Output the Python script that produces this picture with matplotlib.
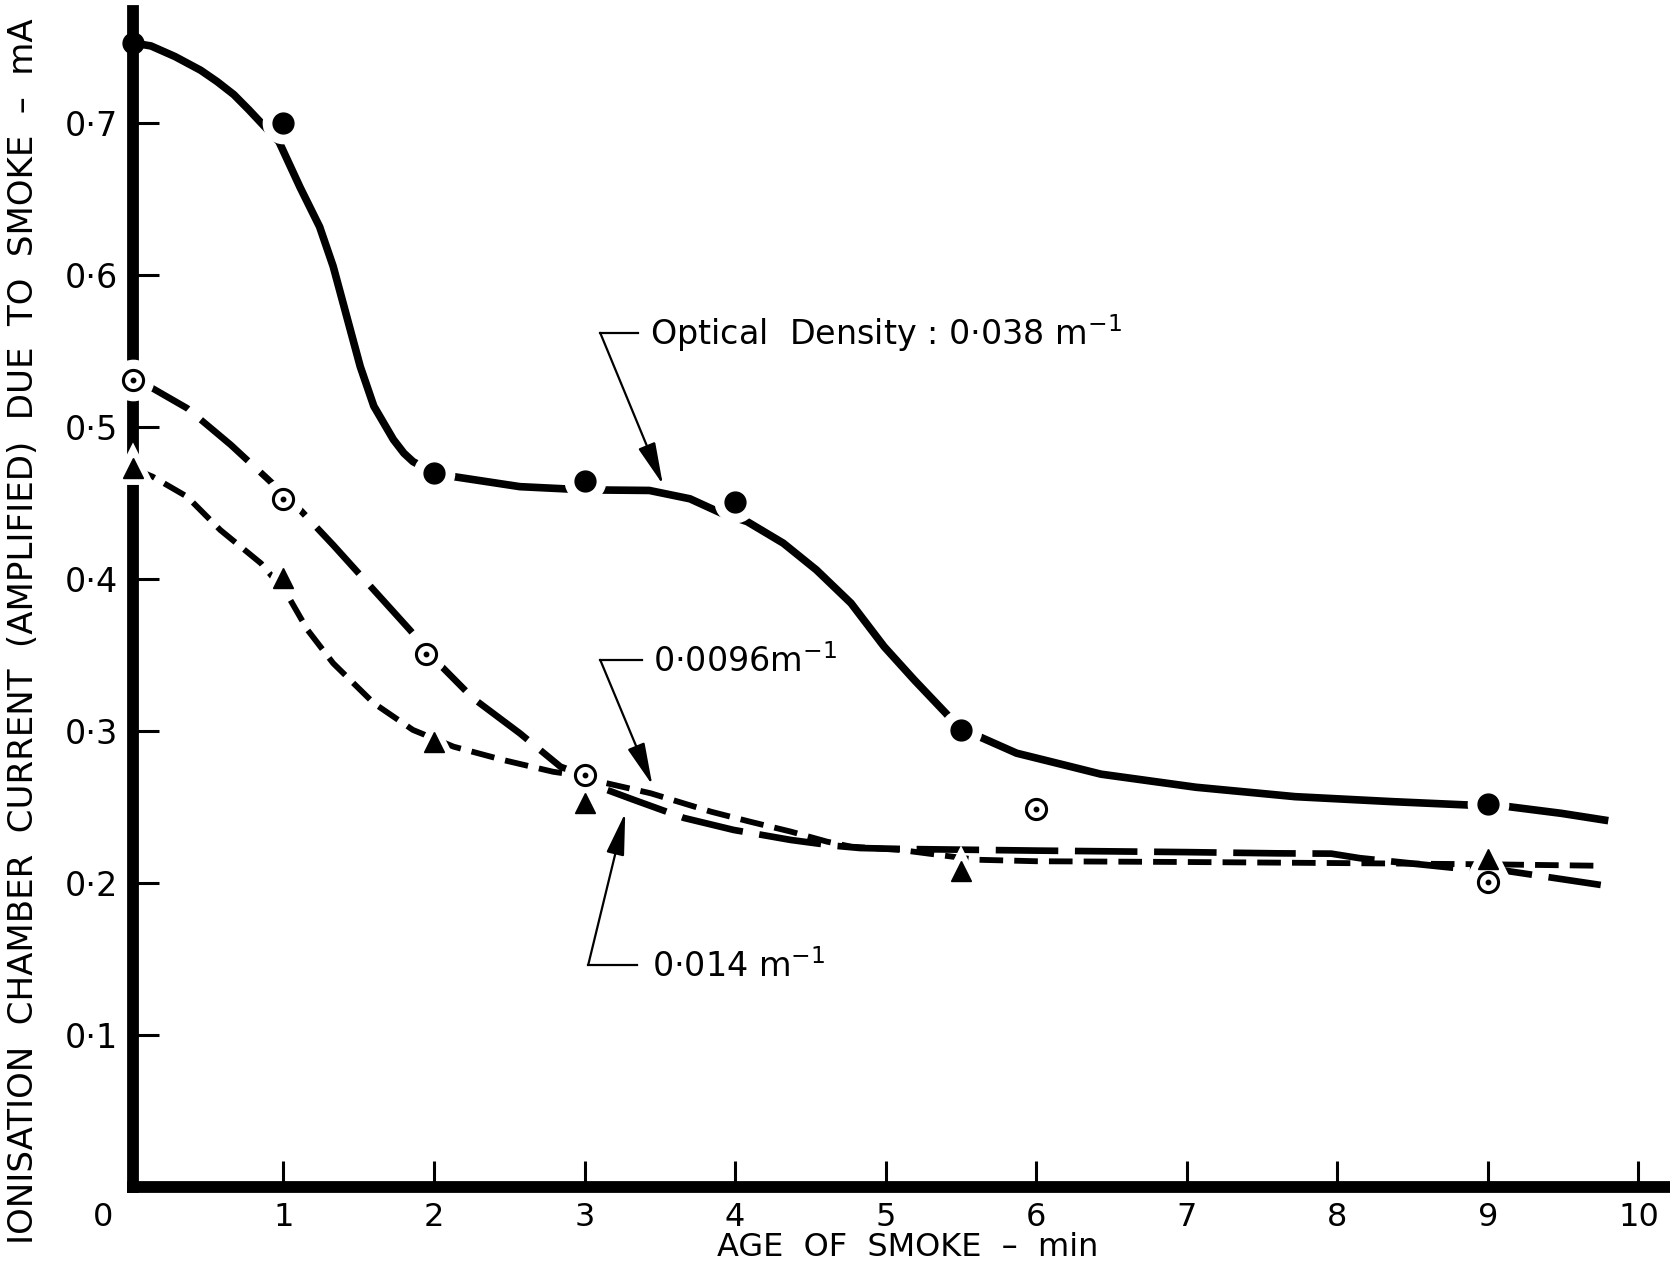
import matplotlib
matplotlib.use("Agg")
import matplotlib.pyplot as plt
from matplotlib import font_manager
import numpy as np

plt.rcParams['font.family'] = ['DejaVu Sans']
plt.rcParams['mathtext.fontset'] = 'dejavusans'
plt.rcParams['lines.scale_dashes'] = False

# measured points (age of smoke in min, current in mA)
dense_x = [0, 1, 2, 3, 4, 5.5, 9]
dense_y = [0.753, 0.700, 0.470, 0.465, 0.451, 0.301, 0.252]
mid_x = [0, 1, 1.95, 3, 6, 9]
mid_y = [0.531, 0.453, 0.351, 0.271, 0.249, 0.201]
thin_x = [0, 1, 2, 3, 5.5, 9]
thin_y = [0.473, 0.401, 0.293, 0.253, 0.208, 0.216]

# hand-drawn fitted curves, traced along their length
curve_dense_x = [0.0, 0.12, 0.28, 0.45, 0.56, 0.67, 0.77, 0.86, 0.97, 1.11, 1.24, 1.33,
                 1.42, 1.51, 1.60, 1.73, 1.80, 1.86, 2.0, 2.13, 2.57, 2.88, 3.10, 3.43,
                 3.70, 3.91, 4.08, 4.32, 4.54, 4.77, 4.99, 5.19, 5.40, 5.49, 5.61, 5.87,
                 6.2, 6.43, 7.06, 7.72, 8.37, 8.87, 9.14, 9.49, 9.8]
curve_dense_y = [0.753, 0.751, 0.744, 0.735, 0.7275, 0.719, 0.709, 0.6995, 0.688, 0.658,
                 0.632, 0.606, 0.573, 0.540, 0.514, 0.492, 0.483, 0.4775, 0.470, 0.4676,
                 0.461, 0.4595, 0.4588, 0.4585, 0.453, 0.4435, 0.438, 0.4238, 0.4062,
                 0.3843, 0.3557, 0.3338, 0.3119, 0.302, 0.297, 0.2856, 0.2775, 0.2718,
                 0.2632, 0.257, 0.2537, 0.2515, 0.2504, 0.246, 0.2412]
curve_mid_x = [0.0, 0.09, 0.36, 0.65, 0.89, 1.10, 1.33, 1.64, 1.84, 2.04, 2.26, 2.57,
               2.84, 2.99, 3.09, 3.33, 3.66, 3.99, 4.37, 4.65, 4.83, 5.1, 6.0, 7.0, 7.6,
               7.96, 8.15, 8.8, 9.1, 9.75]
curve_mid_y = [0.531, 0.528, 0.5126, 0.4885, 0.4665, 0.4468, 0.4226, 0.3886, 0.3667,
               0.3437, 0.3217, 0.2987, 0.2767, 0.2713, 0.2636, 0.2548, 0.2430, 0.2351,
               0.2285, 0.2248, 0.2232, 0.2226, 0.2215, 0.2205, 0.2197, 0.2195, 0.2165,
               0.2099, 0.2085, 0.1989]
curve_thin_x = [0.0, 0.13, 0.36, 0.58, 0.85, 1.02, 1.16, 1.33, 1.60, 1.86, 2.13, 2.46,
                2.79, 2.99, 3.10, 3.44, 3.84, 4.10, 4.37, 4.61, 4.77, 5.1, 5.6, 6.0, 7.0,
                8.0, 9.0, 9.76]
curve_thin_y = [0.473, 0.4676, 0.4544, 0.4325, 0.4106, 0.3908, 0.3667, 0.3448, 0.3185,
                0.3009, 0.2899, 0.2811, 0.2734, 0.2705, 0.2669, 0.2592, 0.2471, 0.2405,
                0.234, 0.2274, 0.2241, 0.2219, 0.2155, 0.2145, 0.214, 0.2133, 0.2125,
                0.2115]

x_ticks = [1, 2, 3, 4, 5, 6, 7, 8, 9, 10]
y_ticks = [0.1, 0.2, 0.3, 0.4, 0.5, 0.6, 0.7]
y_tick_labels = ['0·1', '0·2', '0·3', '0·4', '0·5', '0·6', '0·7']

names = {f.name for f in font_manager.fontManager.ttflist}
narrow = 'Liberation Sans Narrow' if 'Liberation Sans Narrow' in names else 'DejaVu Sans'

fig = plt.figure(figsize=(16.7, 12.65), dpi=100)
ax = fig.add_axes([0.0796, 0.0615, 0.9204, 0.9298])
ax.set_xlim(0, 10.21)
ax.set_ylim(0, 0.774)

for side in ['top', 'right']:
    ax.spines[side].set_visible(False)
for side in ['left', 'bottom']:
    ax.spines[side].set_linewidth(8.5)
    ax.spines[side].set_capstyle('projecting')

ax.set_xticks(x_ticks)
ax.set_xticklabels([str(t) for t in x_ticks], fontsize=23, family=narrow)
ax.set_yticks(y_ticks)
ax.set_yticklabels(y_tick_labels, fontsize=24)
ax.tick_params(axis='both', direction='in', length=19, width=2.2)
ax.tick_params(axis='y', pad=11)
ax.tick_params(axis='x', pad=11)
ax.annotate('0', xy=(-0.196, 0), xycoords=('data', 'axes fraction'),
            xytext=(0, -11), textcoords='offset points', ha='center', va='top',
            fontsize=23, family=narrow, annotation_clip=False)

# curves
ax.plot(curve_dense_x, curve_dense_y, color='black', lw=5.5, solid_capstyle='butt',
        solid_joinstyle='round', zorder=2)
ax.plot(curve_mid_x, curve_mid_y, color='black', lw=4.8, dashes=(45, 12),
        dash_capstyle='butt', zorder=2)
ax.plot(curve_thin_x, curve_thin_y, color='black', lw=4.2, dashes=(17, 8),
        dash_capstyle='butt', zorder=2)

# white gaps where the curves meet the points
dx = np.array(dense_x)
dy = np.array(dense_y)
ax.plot(dx[dx > 0], dy[dx > 0], 'o', ms=29, color='white', mec='white', zorder=3, clip_on=False)
ax.plot(mid_x, mid_y, 'o', ms=29, color='white', mec='white', zorder=3, clip_on=False)
ax.plot(thin_x, thin_y, '^', ms=14, color='white', mec='white', mew=10, zorder=3, clip_on=False)

ax.plot(dense_x, dense_y, 'o', ms=15, color='black', zorder=4, clip_on=False)
ax.plot(mid_x, mid_y, 'o', ms=14.5, mfc='white', mec='black', mew=2.2, zorder=4, clip_on=False)
ax.plot(mid_x, mid_y, 'o', ms=3.2, color='black', zorder=5, clip_on=False)
ax.plot(thin_x, thin_y, '^', ms=14, color='black', zorder=4, clip_on=False)

# labels with leader arrows
labels = [
    ('Optical  Density : 0·038 m$^{-1}$', (3.104, 0.5622), 3.357, 3.437, (3.52, 0.4624)),
    ('0·0096m$^{-1}$', (3.104, 0.347), 3.383, 3.456, (3.45, 0.2647)),
    ('0·014 m$^{-1}$', (3.024, 0.1462), 3.35, 3.45, (3.27, 0.2462)),
]
for text, corner, line_end, text_x, tip in labels:
    ax.plot([corner[0], line_end], [corner[1], corner[1]], color='black', lw=1.6, zorder=2)
    ax.annotate('', xy=tip, xytext=corner,
                arrowprops=dict(arrowstyle='-|>,head_length=1.3,head_width=0.28',
                                lw=1.6, color='black', mutation_scale=20,
                                shrinkA=0, shrinkB=0))
    ax.text(text_x, corner[1] - 0.008, text, fontsize=24, ha='left', va='baseline')

fig.text(0.5434, 0.014, 'AGE  OF  SMOKE  –  min', fontsize=23, family=narrow,
         ha='center', va='center')
fig.text(0.0138, 0.501,
         'IONISATION  CHAMBER  CURRENT  (AMPLIFIED)  DUE  TO  SMOKE  –  mA',
         fontsize=24.5, rotation=90, ha='center', va='center')

fig.savefig('out.png', dpi=100)
